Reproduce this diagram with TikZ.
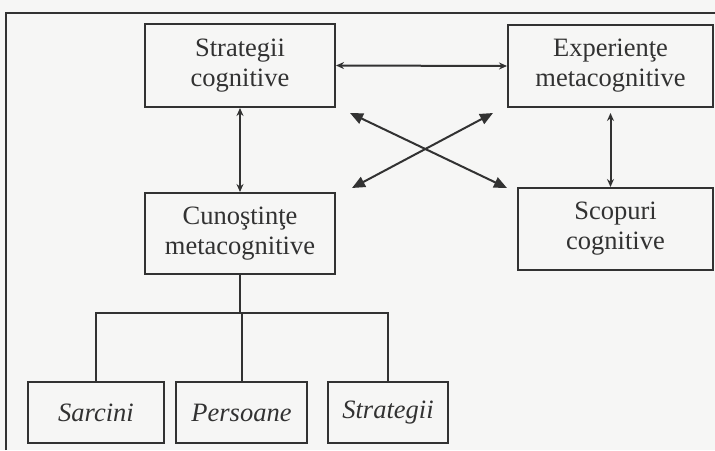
\documentclass[tikz,border=0pt]{standalone}
\usepackage{fontspec}
\setmainfont{Liberation Serif}
\usetikzlibrary{arrows.meta,calc}
\definecolor{ink}{RGB}{50,50,50}
\definecolor{paper}{RGB}{246,246,245}
\begin{document}
\begin{tikzpicture}[x=1pt,y=-1pt,
  box/.style={draw=ink,line width=2pt,text=ink,align=center,inner sep=0pt,
    font=\fontsize{26.5}{30}\selectfont},
  leaf/.style={box,font=\fontsize{26.5}{30}\selectfont\itshape},
  link/.style={draw=ink,line width=2pt},
  twoway/.style={link,{Stealth[length=8pt,width=7pt]}-{Stealth[length=8pt,width=7pt]}},
  cross/.style={link,{Triangle[length=13pt,width=11pt]}-{Triangle[length=13pt,width=11pt]}}]
  % page and frame
  \fill[paper] (0,0) rectangle (715,450);
  \useasboundingbox (0,0) rectangle (715,450);
  \draw[ink,line width=2pt] (6,450) -- (6,13) -- (715,13);

  % upper boxes
  \node[box,minimum width=190pt,minimum height=83pt] (sc) at (240,65.5) {Strategii\\cognitive};
  \node[box,minimum width=205pt,minimum height=82pt] (em) at (610.5,66) {Experienţe\\metacognitive};
  \node[box,minimum width=190pt,minimum height=81pt] (cm) at (240,233.5) {Cunoştinţe\\metacognitive};
  \node[box,minimum width=195pt,minimum height=82pt] (scop) at (615.5,229) {Scopuri\\cognitive};

  % knowledge categories
  \node[leaf,minimum width=136pt,minimum height=61pt] (sar) at (96,412.5) {Sarcini};
  \node[leaf,minimum width=131pt,minimum height=61pt] (pers) at (241.5,412.5) {Persoane};
  \node[leaf,minimum width=120pt,minimum height=61pt] (strat) at (388,412.5) {Strategii};

  % two-way links between boxes
  \draw[twoway] (sc.east) -- (em.west);
  \draw[twoway] (sc.south) -- (cm.north);
  \draw[twoway] ([yshift=-5pt]em.south) -- (em.south |- scop.north);

  % crossing arrows
  \coordinate (xa) at (350,113);
  \coordinate (xb) at (507,188);
  \coordinate (xc) at (493,113);
  \coordinate (xd) at (352,188);
  \draw[cross] (xa) -- (xb);
  \draw[cross] (xc) -- (xd);

  % tree below the knowledge box
  \coordinate (split) at (240,313);
  \draw[link] (cm.south) -- (cm.south |- split);
  \draw[link] (sar.north) -- (sar.north |- split) -- (strat.north |- split) -- (strat.north);
  \draw[link] (pers.north) -- (pers.north |- split);
\end{tikzpicture}
\end{document}
